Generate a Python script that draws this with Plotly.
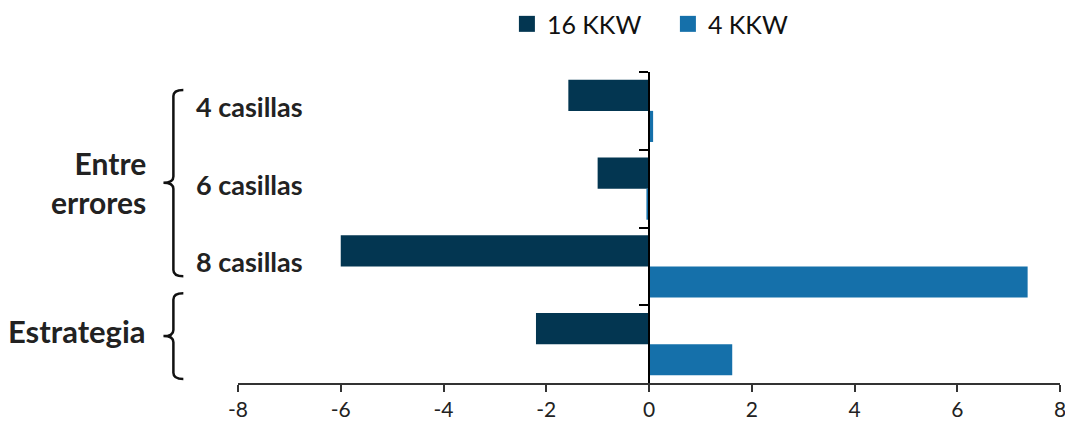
import plotly.graph_objects as go

categories = ["4 casillas", "6 casillas", "8 casillas", "Estrategia"]
series_names = ["16 KKW", "4 KKW"]
kkw16 = [-1.57, -1.0, -6.0, -2.2]
kkw4 = [0.08, -0.05, 7.37, 1.62]
x_ticks = [-8, -6, -4, -2, 0, 2, 4, 6, 8]
group_labels = ["Entre<br>errores", "Estrategia"]

colors = ["#033651", "#1570AA"]
FONT = "Lato"

ypos = list(range(len(categories)))

fig = go.Figure()
for name, vals, col in zip(series_names, [kkw16, kkw4], colors):
    fig.add_trace(go.Bar(y=ypos, x=vals, orientation="h", name=name,
                         marker=dict(color=col, line=dict(width=0)),
                         showlegend=False))
    fig.add_trace(go.Scatter(x=[None], y=[None], mode="markers", name=name,
                             marker=dict(symbol="square", size=18, color=col)))

fig.update_layout(
    width=1073, height=414,
    margin=dict(l=230, r=21, t=64, b=39, autoexpand=False),
    plot_bgcolor="white", paper_bgcolor="white",
    barmode="group", bargap=0.2, bargroupgap=0,
    font=dict(family=FONT, size=20, color="#222"),
    legend=dict(orientation="h", x=0.523, xanchor="center", y=1.154, yanchor="middle",
                font=dict(size=25, color="#111"), itemwidth=30, entrywidth=116,
                traceorder="normal"),
    xaxis=dict(range=[-8, 8], tickvals=x_ticks, ticktext=[str(t) for t in x_ticks],
               showline=True, linecolor="#333", linewidth=1.5, ticks="outside",
               ticklen=7, tickcolor="#333", tickwidth=1.5, showgrid=False,
               zeroline=False, tickfont=dict(size=21, color="#222"), fixedrange=True,
               ticklabeloverflow="allow"),
    yaxis=dict(range=[3.5, -0.5], tickvals=[-0.5, 0.5, 1.5, 2.5], showticklabels=False,
               showline=True, linecolor="black", linewidth=1.5, ticks="outside",
               ticklen=9, tickcolor="black", tickwidth=1.5, showgrid=False,
               zeroline=False, anchor="free", position=0.5),
)

# category labels
label_y = [-0.05, 0.95, 1.94]
for cat, yy in zip(categories[:3], label_y):
    fig.add_annotation(text=f"<b>{cat}</b>", x=0.082, xref="paper", y=yy, yref="y",
                       xanchor="right", yanchor="middle", showarrow=False,
                       font=dict(size=27, color="#222", family=FONT))

fig.add_annotation(text=f"<b>{group_labels[0]}</b>", x=-0.109, xref="paper", y=0.92, yref="y",
                   xanchor="right", yanchor="middle", showarrow=False, align="right",
                   font=dict(size=30, color="#222", family=FONT))
fig.add_annotation(text=f"<b>{group_labels[1]}</b>", x=-0.109, xref="paper", y=2.83, yref="y",
                   xanchor="right", yanchor="middle", showarrow=False,
                   font=dict(size=31, color="#222", family=FONT))

def brace(xv, xt, xn, yt, ym, yb, r=0.08):
    return (f"M {xt},{yt} Q {xv},{yt} {xv},{yt + r} "
            f"L {xv},{ym - r} Q {xv},{ym} {xn},{ym} "
            f"Q {xv},{ym} {xv},{ym + r} "
            f"L {xv},{yb - r} Q {xv},{yb} {xt},{yb}")

xv, xt, xn = -0.0786, -0.0665, -0.0907
for yt, ym, yb in [(-0.27, 0.923, 2.128), (2.346, 2.897, 3.449)]:
    fig.add_shape(type="path", xref="paper", yref="y",
                  path=brace(xv, xt, xn, yt, ym, yb),
                  line=dict(color="#111", width=2.5))

fig.write_html("out.html")
